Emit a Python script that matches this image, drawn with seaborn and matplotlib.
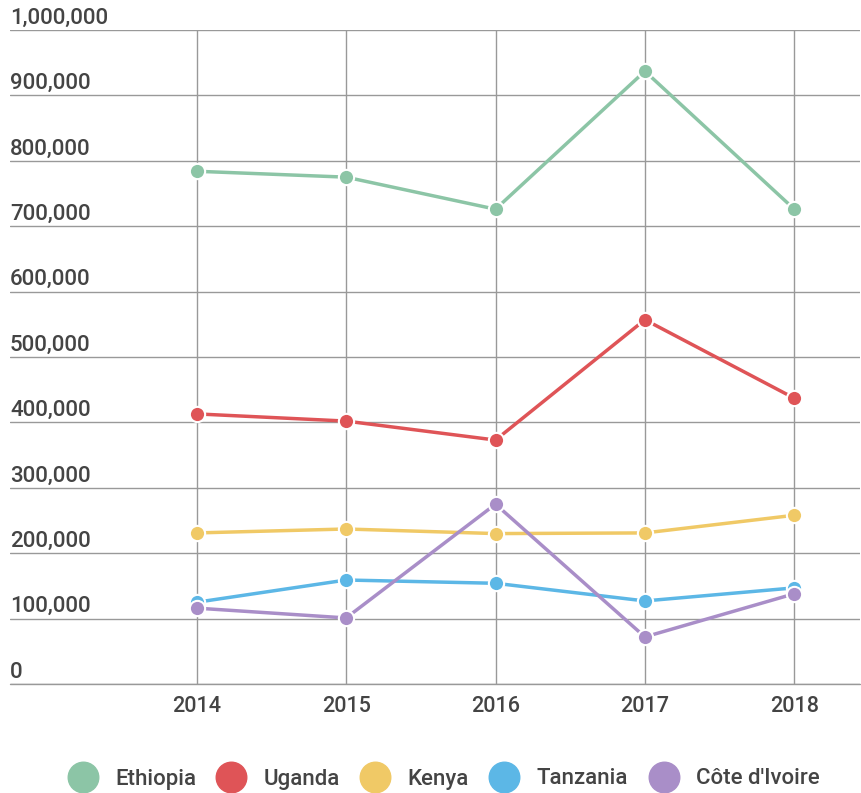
import matplotlib
matplotlib.use("Agg")
import matplotlib.pyplot as plt
from matplotlib.lines import Line2D
import seaborn as sns
import pandas as pd

years = ["2014", "2015", "2016", "2017", "2018"]
countries = ["Ethiopia", "Uganda", "Kenya", "Tanzania", "Côte d'Ivoire"]
ethiopia = [784000, 775000, 726000, 937000, 726000]
uganda = [413000, 402000, 373000, 557000, 437000]
kenya = [231000, 237000, 230000, 231000, 258000]
tanzania = [125000, 159000, 154000, 127000, 147000]
cote_divoire = [116000, 101000, 275000, 72000, 138000]
colors = ["#8cc5a6", "#df5457", "#f0c966", "#5cb7e6", "#a98ec8"]

series = [ethiopia, uganda, kenya, tanzania, cote_divoire]
rows = []
for c, vals in zip(countries, series):
    for i, (y, v) in enumerate(zip(years, vals)):
        rows.append({"country": c, "idx": i, "year": y, "value": v})
df = pd.DataFrame(rows)

sns.set_theme(style="white")
plt.rcParams["font.family"] = ["Roboto", "DejaVu Sans"]

fig = plt.figure(figsize=(8.61, 7.93), dpi=100)
ax = fig.add_axes([10 / 861, 1 - 684 / 793, 850 / 861, (684 - 30) / 793])

palette = dict(zip(countries, colors))
sns.lineplot(data=df, x="idx", y="value", hue="country", palette=palette,
             marker="o", markersize=11, markeredgecolor="white", markeredgewidth=1.5,
             linewidth=2.5, ax=ax, legend=False, zorder=3)

ax.set_xlim(-1.25, 4.44)
ax.set_ylim(0, 1000000)
ax.set_yticks(range(0, 1000001, 100000))
ax.set_xticks(range(len(years)))
ax.set_xticklabels(years, fontsize=15.5, color="#444444", fontweight=500)
ax.tick_params(axis="x", length=0, pad=9)
ax.set_yticklabels([])
ax.tick_params(axis="y", length=0)
ax.grid(True, color="#999999", linewidth=1)
ax.set_axisbelow(True)
ax.axhline(0, color="#999999", linewidth=1, zorder=0.5, clip_on=False)
for s in ax.spines.values():
    s.set_visible(False)
ax.set_xlabel("")
ax.set_ylabel("")

for v in range(0, 1000001, 100000):
    ax.annotate(f"{v:,}", xy=(0, v), xycoords=("axes fraction", "data"),
                xytext=(0, 4.5), textcoords="offset points",
                fontsize=16, color="#444444", fontweight=500,
                ha="left", va="baseline")

handles = [Line2D([0], [0], marker="o", linestyle="", markersize=22,
                  markerfacecolor=col, markeredgecolor=col) for col in colors]
fig.legend(handles, countries, loc="center", bbox_to_anchor=(0.511, 1 - 779 / 793),
           ncol=5, frameon=False, handletextpad=0.45,
           columnspacing=0.6, labelcolor="#444444",
           prop={"size": 16, "weight": 500, "family": ["Roboto", "DejaVu Sans"]})

fig.savefig("out.png", dpi=100)
